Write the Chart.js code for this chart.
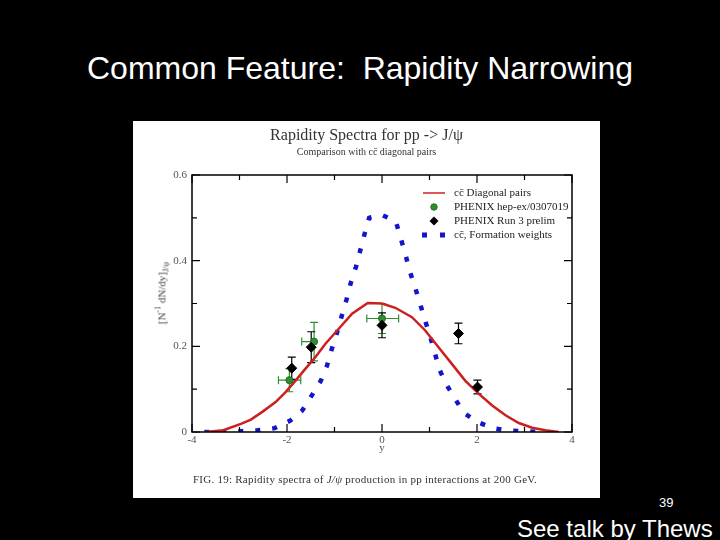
<!DOCTYPE html>
<html>
<head>
<meta charset="utf-8">
<script src="https://cdn.jsdelivr.net/npm/chart.js@4.4.0/dist/chart.umd.min.js"></script>
<style>
body { margin:0; background:#000; width:720px; height:540px; overflow:hidden; position:relative; font-family:"Liberation Sans", Arial, sans-serif; }
#slideTitle { position:absolute; left:0; top:48px; width:720px; text-align:center; color:#fff; font-size:32px; line-height:40px; }
#pageNum { position:absolute; left:659px; top:495px; color:#fff; font-size:13px; line-height:16px; }
#talk { position:absolute; left:517px; top:515px; color:#fff; font-size:24px; line-height:28px; white-space:nowrap; }
#panel { position:absolute; left:133px; top:121px; width:467px; height:377px; background:#fff; }
#panel canvas { position:absolute; left:0; top:0; }
.serif { font-family:"Liberation Serif","DejaVu Serif",serif; position:absolute; white-space:nowrap; color:#333; }
#chartTitle { left:0; width:467px; text-align:center; top:5px; font-size:16px; line-height:18px; }
#chartSub { left:0; width:467px; text-align:center; top:25px; font-size:10px; line-height:12px; }
#xTitle { left:239px; width:20px; text-align:center; top:320px; font-size:11px; line-height:13px; color:#555; }
#yTitle { left:29px; top:172px; font-size:11px; line-height:13px; color:#444; transform:translate(-50%,-50%) rotate(-90deg); }
#caption { left:60px; top:352px; font-size:11px; line-height:13px; letter-spacing:0.25px; }
sup, sub { font-size:8px; line-height:0; }
</style>
</head>
<body>
<div id="slideTitle">Common Feature:&nbsp; Rapidity Narrowing</div>
<div id="panel">
  <canvas id="myChart" width="467" height="377"></canvas>
  <div class="serif" id="chartTitle">Rapidity Spectra for pp -&gt; J/&psi;</div>
  <div class="serif" id="chartSub">Comparison with cc&#772; diagonal pairs</div>
  <div class="serif" id="xTitle">y</div>
  <div class="serif" id="yTitle">[N<sup>-1</sup> dN/dy]<sub>J/&psi;</sub></div>
  <div class="serif" id="caption">FIG. 19: Rapidity spectra of <i>J/&psi;</i> production in pp interactions at 200 GeV.</div>
</div>
<div id="pageNum">39</div>
<div id="talk">See talk by Thews</div>
<script>
// cc-bar diagonal pairs (red curve)
const diagX = [-3.72,-3.34,-2.97,-2.76,-2.52,-2.24,-2.03,-1.82,-1.61,-1.40,-1.19,-0.91,-0.63,-0.30,0.0,0.28,0.63,0.91,1.19,1.47,1.75,2.04,2.32,2.60,2.88,3.16,3.44,3.72];
const diagY = [0.0,0.004,0.019,0.029,0.047,0.07,0.093,0.12,0.148,0.175,0.206,0.241,0.276,0.301,0.30,0.29,0.268,0.237,0.198,0.159,0.12,0.089,0.062,0.039,0.021,0.01,0.004,0.0];

// cc-bar formation weights (blue dashed curve)
const formX = [-3.74,-3.34,-2.97,-2.62,-2.26,-1.94,-1.68,-1.48,-1.29,-1.16,-1.06,-0.95,-0.85,-0.75,-0.66,-0.55,-0.46,-0.37,-0.27,-0.01,0.29,0.39,0.49,0.58,0.69,0.80,0.90,1.01,1.11,1.20,1.35,1.54,1.72,2.02,2.34,2.69,3.06,3.45];
const formY = [0,0,0.002,0.004,0.009,0.026,0.05,0.085,0.119,0.154,0.193,0.231,0.27,0.308,0.347,0.385,0.423,0.461,0.50,0.507,0.492,0.454,0.416,0.377,0.34,0.30,0.263,0.224,0.186,0.148,0.112,0.077,0.045,0.023,0.0085,0.003,0.0015,0];

// PHENIX hep-ex/0307019 (green)
const hepX = [-1.95, -1.43, 0.0];
const hepY = [0.121, 0.211, 0.265];
const hepYErr = [0.027, 0.045, 0.035];
const hepXErrLo = [0.23, 0.26, 0.32];
const hepXErrHi = [0.24, 0, 0.35];

// PHENIX Run 3 prelim (black)
const run3X = [-1.90, -1.49, 0.0, 1.61, 2.01];
const run3Y = [0.149, 0.198, 0.249, 0.230, 0.105];
const run3Err = [0.026, 0.036, 0.029, 0.024, 0.016];

const legendLabels = ['cc\u0304 Diagonal pairs', 'PHENIX hep-ex/0307019', 'PHENIX Run 3 prelim', 'cc\u0304, Formation weights'];
const xMajor = [-4, -2, 0, 2, 4];
const yMajor = [0, 0.2, 0.4, 0.6];

const red = '#cc1f1f';
const blue = '#1414cc';
const green = '#2f8f2f';
const serif = '"Liberation Serif", "DejaVu Serif", serif';

const pts = (xs, ys) => xs.map((v, i) => ({x: v, y: ys[i]}));

const errorBars = {
  id: 'errorBars',
  beforeDatasetsDraw(chart) {
    const {ctx, scales: {x, y}} = chart;
    ctx.save();
    ctx.lineWidth = 1.2;
    // green: x and y errors
    ctx.strokeStyle = green;
    ctx.beginPath();
    hepX.forEach((v, i) => {
      const px = x.getPixelForValue(v), py = y.getPixelForValue(hepY[i]);
      const top = y.getPixelForValue(hepY[i] + hepYErr[i]), bot = y.getPixelForValue(hepY[i] - hepYErr[i]);
      ctx.moveTo(px, top); ctx.lineTo(px, bot);
      ctx.moveTo(px - 4, top); ctx.lineTo(px + 4, top);
      ctx.moveTo(px - 4, bot); ctx.lineTo(px + 4, bot);
      const l = x.getPixelForValue(v - hepXErrLo[i]), r = x.getPixelForValue(v + hepXErrHi[i]);
      ctx.moveTo(l, py); ctx.lineTo(r, py);
      ctx.moveTo(l, py - 4); ctx.lineTo(l, py + 4);
      if (hepXErrHi[i] > 0) { ctx.moveTo(r, py - 4); ctx.lineTo(r, py + 4); }
    });
    ctx.stroke();
    // black: y errors
    ctx.strokeStyle = '#000';
    ctx.beginPath();
    run3X.forEach((v, i) => {
      const px = x.getPixelForValue(v);
      const top = y.getPixelForValue(run3Y[i] + run3Err[i]), bot = y.getPixelForValue(run3Y[i] - run3Err[i]);
      ctx.moveTo(px, top); ctx.lineTo(px, bot);
      ctx.moveTo(px - 4, top); ctx.lineTo(px + 4, top);
      ctx.moveTo(px - 4, bot); ctx.lineTo(px + 4, bot);
    });
    ctx.stroke();
    ctx.restore();
  }
};

const frame = {
  id: 'frame',
  afterDraw(chart) {
    const {ctx, chartArea: a, scales: {x, y}} = chart;
    ctx.save();
    ctx.strokeStyle = '#000';
    ctx.lineWidth = 1.5;
    ctx.strokeRect(a.left, a.top, a.right - a.left, a.bottom - a.top);
    ctx.lineWidth = 1.2;
    ctx.beginPath();
    for (let v = x.min; v <= x.max; v++) {
      const px = x.getPixelForValue(v);
      const len = xMajor.includes(v) ? 8 : 5;
      ctx.moveTo(px, a.bottom); ctx.lineTo(px, a.bottom - len);
      ctx.moveTo(px, a.top); ctx.lineTo(px, a.top + len);
    }
    for (let i = 0; i <= 6; i++) {
      const v = i / 10;
      const py = y.getPixelForValue(v);
      const len = i % 2 === 0 ? 8 : 5;
      ctx.moveTo(a.left, py); ctx.lineTo(a.left + len, py);
      ctx.moveTo(a.right, py); ctx.lineTo(a.right - len, py);
    }
    ctx.stroke();

    // legend
    const lx = 290, ly = 72, dy = 14;
    ctx.font = '11px ' + serif;
    ctx.fillStyle = '#222';
    ctx.textBaseline = 'middle';
    legendLabels.forEach((t, i) => ctx.fillText(t, lx + 31, ly + i * dy));
    ctx.strokeStyle = red; ctx.lineWidth = 1.5;
    ctx.beginPath(); ctx.moveTo(lx, ly); ctx.lineTo(lx + 22, ly); ctx.stroke();
    ctx.fillStyle = green; ctx.strokeStyle = '#1d6a1d'; ctx.lineWidth = 1;
    ctx.beginPath(); ctx.arc(lx + 11, ly + dy, 3.2, 0, Math.PI * 2); ctx.fill(); ctx.stroke();
    ctx.fillStyle = '#000';
    ctx.beginPath();
    ctx.moveTo(lx + 11, ly + 2 * dy - 4.5); ctx.lineTo(lx + 15.5, ly + 2 * dy);
    ctx.lineTo(lx + 11, ly + 2 * dy + 4.5); ctx.lineTo(lx + 6.5, ly + 2 * dy);
    ctx.closePath(); ctx.fill();
    ctx.fillStyle = blue;
    ctx.fillRect(lx - 1, ly + 3 * dy - 2.5, 5, 5);
    ctx.fillRect(lx + 17, ly + 3 * dy - 2.5, 5, 5);
    ctx.restore();
  }
};

new Chart('myChart', {
  type: 'scatter',
  data: {
    datasets: [
      {
        data: pts(run3X, run3Y),
        pointStyle: 'rectRot',
        pointRadius: 5,
        backgroundColor: '#000',
        borderColor: '#000',
        order: 0
      },
      {
        data: pts(hepX, hepY),
        pointStyle: 'circle',
        pointRadius: 3.5,
        backgroundColor: green,
        borderColor: '#1d6a1d',
        borderWidth: 1,
        order: 1
      },
      {
        data: pts(diagX, diagY),
        showLine: true,
        borderColor: red,
        borderWidth: 2.5,
        pointRadius: 0,
        order: 2
      },
      {
        data: pts(formX, formY),
        showLine: true,
        borderColor: blue,
        borderWidth: 4.5,
        borderDash: [5, 12],
        borderCapStyle: 'butt',
        pointRadius: 0,
        order: 3
      }
    ]
  },
  options: {
    responsive: false,
    animation: false,
    layout: {padding: {top: 54, right: 28, left: 0, bottom: 0}},
    plugins: {legend: {display: false}, tooltip: {enabled: false}},
    scales: {
      x: {
        type: 'linear',
        min: -4,
        max: 4,
        afterFit(scale) { scale.height = 66; },
        grid: {display: false, drawTicks: false},
        border: {display: false},
        ticks: {
          stepSize: 1,
          autoSkip: false,
          maxRotation: 0,
          padding: 2,
          color: '#555',
          font: {family: serif, size: 11},
          callback: v => xMajor.includes(v) ? String(v) : ''
        }
      },
      y: {
        min: 0,
        max: 0.6,
        afterFit(scale) { scale.width = 59; },
        grid: {display: false, drawTicks: false},
        border: {display: false},
        ticks: {
          stepSize: 0.1,
          padding: 5,
          color: '#555',
          font: {family: serif, size: 11},
          callback: v => {
            const m = yMajor.find(t => Math.abs(t - v) < 1e-6);
            return m === undefined ? '' : String(m);
          }
        }
      }
    }
  },
  plugins: [errorBars, frame]
});
</script>
</body>
</html>
